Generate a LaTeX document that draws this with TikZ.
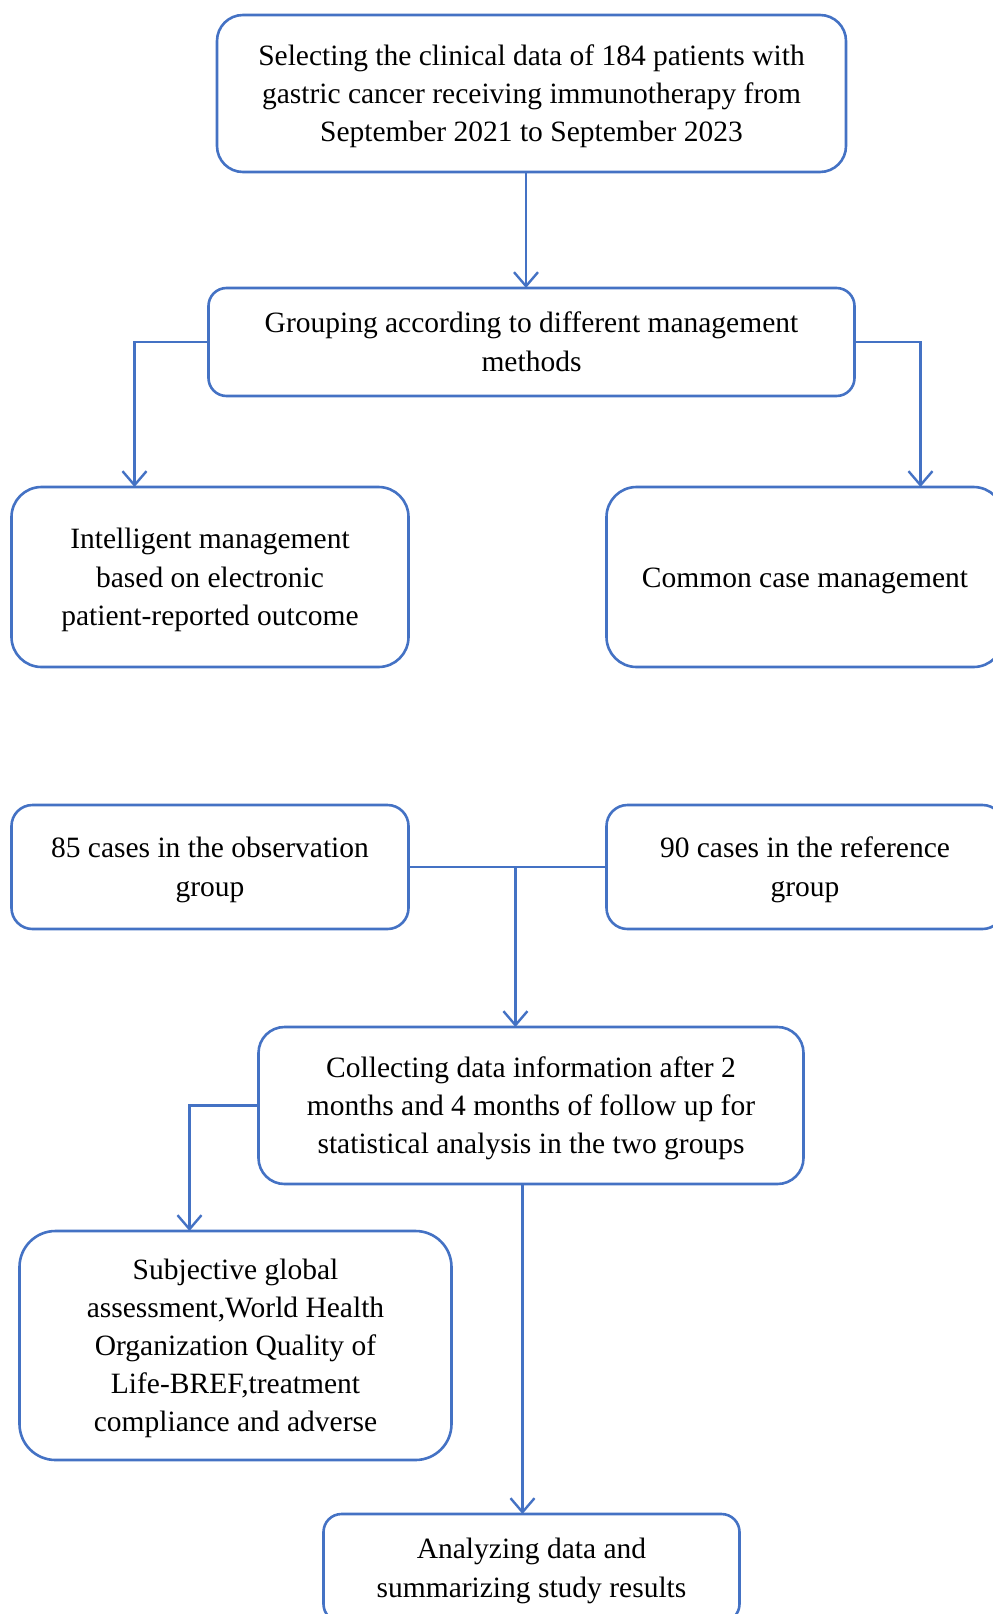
\documentclass[tikz,border=0pt]{standalone}
\usepackage{fontspec}
\setmainfont{Liberation Serif}
\usepackage{xcolor}
\usetikzlibrary{shapes,arrows.meta,positioning,calc}
\definecolor{flowblue}{RGB}{68,114,196}

\begin{document}
\begin{tikzpicture}[x=1pt, y=1pt, node distance=100pt, >={Straight Barb[length=14pt,width=24pt]}]
    \tikzstyle{block} = [rectangle, draw=flowblue, line width=2.6pt, align=flush center, inner sep=0pt, outer sep=0pt, font=\fontsize{29.5}{38.2}\selectfont,
        execute at begin node={\rule{0pt}{28pt}}, execute at end node={\rule[-8pt]{0pt}{8pt}}]
    \tikzstyle{line} = [draw=flowblue, ->, line width=2.4pt]

    \useasboundingbox (0,0) rectangle (993,-1614);

    % Selection and grouping
    \node [block, minimum width=629pt, text width=609pt, minimum height=157pt, rounded corners=26pt] (select) at (531.5,-93.5) {Selecting the clinical data of 184 patients with\\gastric cancer receiving immunotherapy from\\September 2021 to September 2023};
    \node [block, minimum width=646pt, text width=626pt, minimum height=108pt, rounded corners=18pt, below=116pt of select] (grouping) {Grouping according to different management\\methods};

    % Management methods
    \node [block, minimum width=397pt, text width=377pt, minimum height=180pt, rounded corners=30pt, below=91pt of grouping, xshift=-321.5pt] (intel) {Intelligent management\\based on electronic\\patient-reported outcome};
    \node [block, minimum width=397pt, text width=377pt, minimum height=180pt, rounded corners=30pt, right=198pt of intel] (common) {Common case management};

    % Groups
    \node [block, minimum width=397pt, text width=377pt, minimum height=124pt, rounded corners=21pt, below=138pt of intel] (obs) {85 cases in the observation\\group};
    \node [block, minimum width=397pt, text width=377pt, minimum height=124pt, rounded corners=21pt, right=198pt of obs] (ref) {90 cases in the reference\\group};

    % Follow up and results
    \node [block, minimum width=545pt, text width=525pt, minimum height=157pt, rounded corners=26pt, below=98pt of obs, xshift=321pt] (collect) {Collecting data information after 2\\months and 4 months of follow up for\\statistical analysis in the two groups};
    \node [block, minimum width=432pt, text width=412pt, minimum height=229pt, rounded corners=36pt, below=47pt of collect, xshift=-295.5pt] (subj) {Subjective global\\assessment,World Health\\Organization Quality of\\Life-BREF,treatment\\compliance and adverse};
    \node [block, minimum width=416pt, text width=396pt, minimum height=108pt, rounded corners=18pt, below=330pt of collect, xshift=0.5pt] (analyse) {Analyzing data and\\summarizing study results};

    % Paths
    \path [line] ([xshift=-5.5pt]select.south) -- ([xshift=-5.5pt]select.south |- grouping.north);
    \path [line] (grouping.west) -| ([xshift=-75.5pt]intel.north);
    \path [line] (grouping.east) -| ([xshift=115.5pt]common.north);
    \path [draw=flowblue, line width=2.4pt] (obs) -- (ref);
    \coordinate (joint) at ($(obs.east)!0.54!(ref.west)$);
    \path [line] (joint) -- (joint |- collect.north);
    \path [line] (collect.west) -| ([xshift=-46pt]subj.north);
    \path [line] ([xshift=-8.5pt]collect.south) -- ([xshift=-8.5pt]collect.south |- analyse.north);
\end{tikzpicture}
\end{document}
